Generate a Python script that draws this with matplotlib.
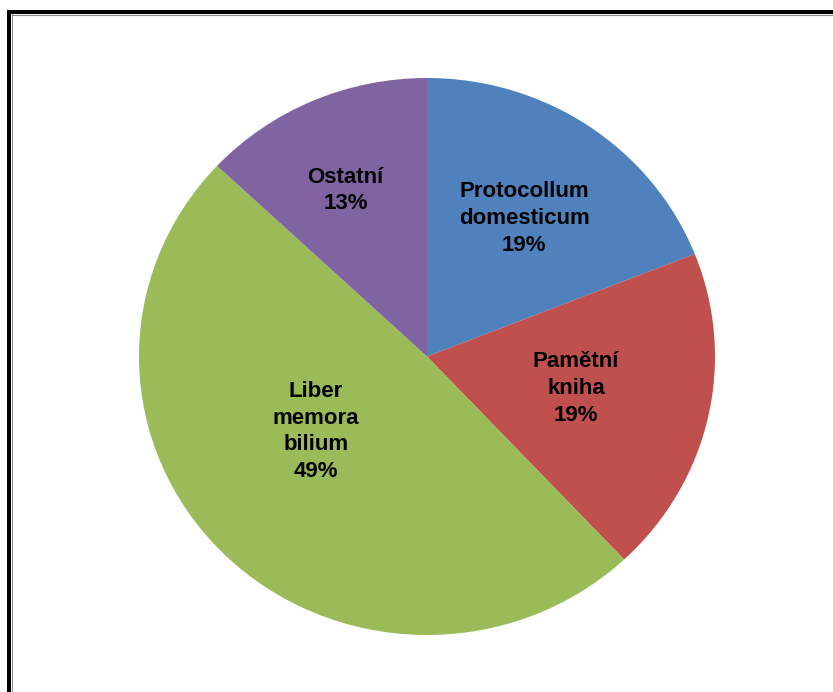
import matplotlib.pyplot as plt
from matplotlib.lines import Line2D
import numpy as np

plt.rcParams['font.family'] = ['Liberation Sans', 'DejaVu Sans']

# data
names = ['Protocollum\ndomesticum', 'Pamětní\nkniha', 'Liber\nmemora\nbilium', 'Ostatní']
shares = [19, 19, 49, 13]
colors = ['#4F81BD', '#C0504D', '#9BBB59', '#8064A2']

W, H = 833, 692
fig = plt.figure(figsize=(W / 100, H / 100), dpi=100)

# pie area (slightly wider than tall)
ax = fig.add_axes([139 / W, (H - 635) / H, 576 / W, 557 / H])
wedges, _ = ax.pie(shares, colors=colors, startangle=90, counterclock=False,
                   wedgeprops=dict(linewidth=0), frame=False)
ax.set_aspect('auto')
ax.set_xlim(-1, 1)
ax.set_ylim(-1, 1)
ax.axis('off')

# label radius and angle shift for each wedge
label_r = [0.60, 0.53, 0.47, 0.66]
label_shift = [0, 0, -10, 2]
for w, name, v, r, s in zip(wedges, names, shares, label_r, label_shift):
    ang = np.deg2rad((w.theta1 + w.theta2) / 2 + s)
    ax.text(r * np.cos(ang), r * np.sin(ang), f'{name}\n{v}%',
            ha='center', va='center', fontsize=16, fontweight='bold',
            linespacing=1.36, color='black')

# outer frame, cut by the image edges
fig.add_artist(Line2D([7 / W, 1], [1 - 12 / H, 1 - 12 / H], transform=fig.transFigure,
                      color='black', linewidth=2.9, solid_capstyle='butt'))
fig.add_artist(Line2D([9 / W, 9 / W], [1 - 10 / H, 0], transform=fig.transFigure,
                      color='black', linewidth=2.9, solid_capstyle='butt'))
fig.add_artist(Line2D([11 / W, 1], [1 - 14.5 / H, 1 - 14.5 / H], transform=fig.transFigure,
                      color='#8c8c8c', linewidth=0.8, solid_capstyle='butt'))
fig.add_artist(Line2D([11.5 / W, 11.5 / W], [1 - 14 / H, 0], transform=fig.transFigure,
                      color='#8c8c8c', linewidth=0.8, solid_capstyle='butt'))

fig.savefig('out.png', dpi=100)
